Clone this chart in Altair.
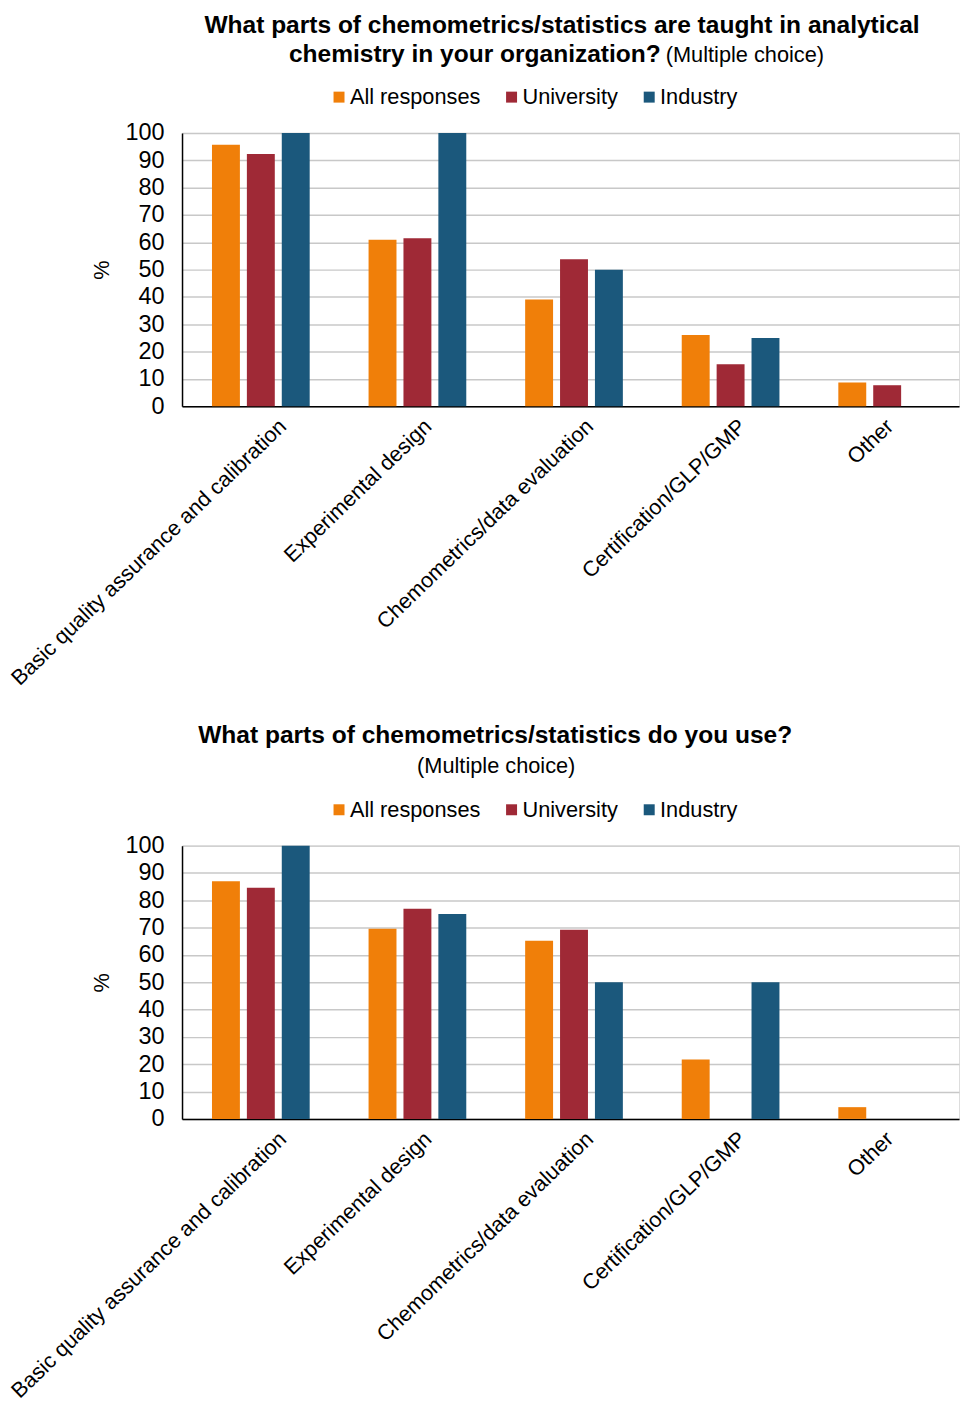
import altair as alt
import pandas as pd

FONT = "Liberation Sans"

categories = [
    "Basic quality assurance and calibration",
    "Experimental design",
    "Chemometrics/data evaluation",
    "Certification/GLP/GMP",
    "Other",
]
series = ["All responses", "University", "Industry"]
colors = ["#F07F09", "#9F2936", "#1B587C"]

# What is taught (% of respondents)
taught_all = [95.7, 60.9, 39.1, 26.1, 8.7]
taught_university = [92.3, 61.5, 53.8, 15.4, 7.7]
taught_industry = [100, 100, 50, 25, 0]

# What is used (% of respondents)
used_all = [87.0, 69.6, 65.2, 21.7, 4.3]
used_university = [84.6, 76.9, 69.2, 0, 0]
used_industry = [100, 75, 50, 50, 0]

# Slanted category labels: longer labels sit a little further right.
LABEL_SHIFT = alt.ExprRef(expr="0.57 * length(datum.label) - 7.2")


def long_table(all_vals, uni_vals, ind_vals):
    rows = []
    for name, vals in zip(series, [all_vals, uni_vals, ind_vals]):
        for cat, v in zip(categories, vals):
            rows.append({"category": cat, "series": name, "value": v})
    return pd.DataFrame(rows)


def text_layer(text, x, y, size, weight="normal", align="center"):
    return alt.Chart(pd.DataFrame({"t": [text]})).mark_text(
        font=FONT, fontSize=size, fontWeight=weight, align=align,
        baseline="alphabetic", color="black",
    ).encode(text="t:N", x=alt.value(x), y=alt.value(y))


def panel(df, headings):
    bars = alt.Chart(df).mark_bar().encode(
        x=alt.X(
            "category:N", sort=categories,
            scale=alt.Scale(paddingInner=0.376, paddingOuter=0.169, align=0.566),
            axis=alt.Axis(
                title=None, labelAngle=-44, labelFont=FONT, labelFontSize=21.6,
                labelColor="black", ticks=False, tickSize=0, labelPadding=9,
                labelOffset=LABEL_SHIFT, domainColor="black", domainWidth=1.5,
                grid=False, labelLimit=600,
            ),
        ),
        xOffset=alt.XOffset(
            "series:N", sort=series,
            scale=alt.Scale(paddingInner=0.2, paddingOuter=0),
        ),
        y=alt.Y(
            "value:Q",
            scale=alt.Scale(domain=[0, 100], nice=False),
            axis=alt.Axis(
                title="%", values=list(range(0, 101, 10)), labelFont=FONT,
                labelFontSize=23.5, labelColor="black", ticks=False, tickSize=0,
                labelPadding=18, titleFont=FONT, titleFontSize=21.8,
                titleFontWeight="normal", titleColor="black", titlePadding=12,
                domainColor="black", domainWidth=1.5,
                gridColor="#C8C8C8", gridWidth=1.5,
            ),
        ),
        color=alt.Color(
            "series:N", sort=series,
            scale=alt.Scale(domain=series, range=colors),
            legend=alt.Legend(
                title=None, orient="none", legendX=146.5, legendY=-47,
                direction="horizontal", symbolType="square", symbolSize=121,
                symbolStrokeWidth=0, labelFont=FONT, labelFontSize=21.8,
                labelColor="black", labelOffset=0, columnPadding=20, padding=0,
            ),
        ),
    )
    layers = [bars] + [text_layer(**h) for h in headings]
    return alt.layer(*layers).properties(width=779, height=274)


top = panel(
    long_table(taught_all, taught_university, taught_industry),
    [
        dict(text="What parts of chemometrics/statistics are taught in analytical",
             x=381, y=-100.7, size=24.6, weight="bold"),
        dict(text="chemistry in your organization?", x=480, y=-71,
             size=24.6, weight="bold", align="right"),
        dict(text="(Multiple choice)", x=485, y=-71, size=21.8, align="left"),
    ],
)

bottom = panel(
    long_table(used_all, used_university, used_industry),
    [
        dict(text="What parts of chemometrics/statistics do you use?",
             x=314, y=-103, size=24.6, weight="bold"),
        dict(text="(Multiple choice)", x=315, y=-73, size=21.8),
    ],
)

chart = (
    alt.vconcat(top, bottom, spacing=31.5)
    .resolve_scale(color="independent")
    .resolve_legend(color="independent")
    .properties(padding={"left": 6.5, "top": 9.5, "right": 0, "bottom": 0})
    .configure_view(stroke=None)
    .configure(background="white")
)

chart.save("out.html", embed_options={"renderer": "svg", "actions": False})
